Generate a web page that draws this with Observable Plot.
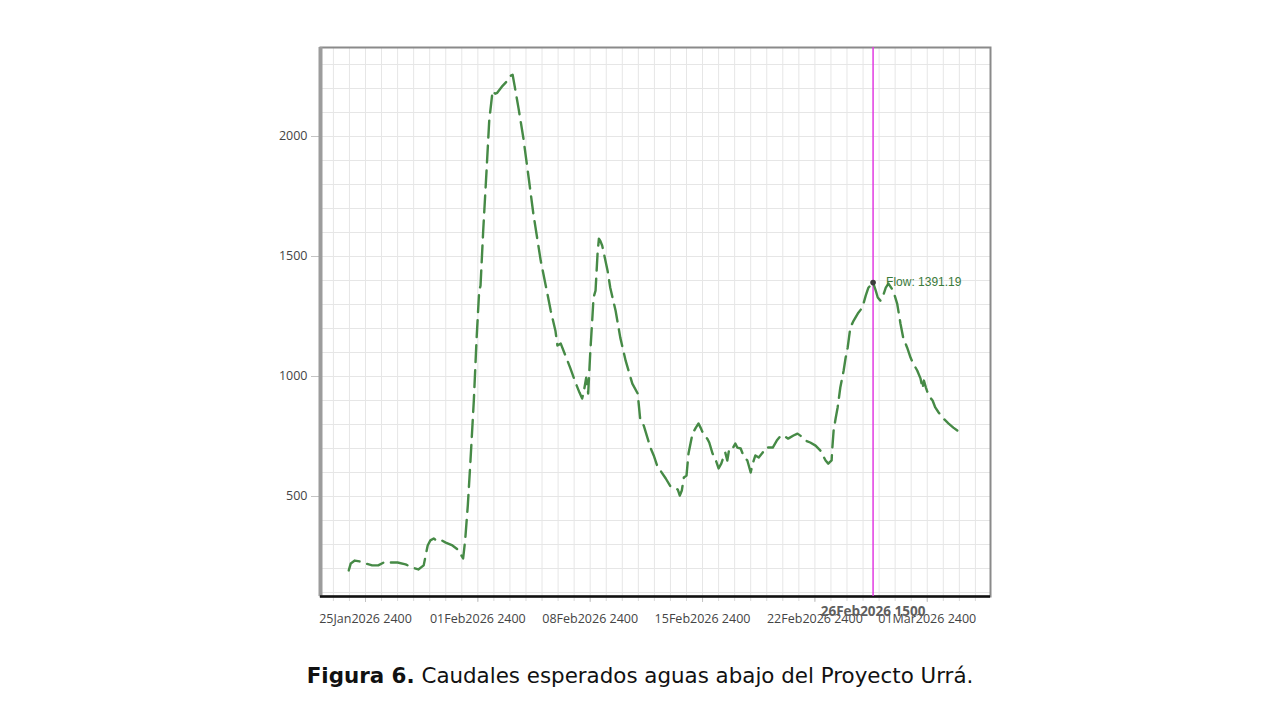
<!DOCTYPE html>
<html>
<head>
<meta charset="utf-8">
<script src="https://cdn.jsdelivr.net/npm/d3@7"></script>
<script src="https://cdn.jsdelivr.net/npm/@observablehq/plot@0.6"></script>
<style>
  html, body { margin: 0; padding: 0; background: #fff; }
  #chart { width: 1280px; height: 660px; }
  #caption { width: 1280px; text-align: center; font-family: "DejaVu Sans", Verdana, sans-serif; font-size: 21.4px; line-height: 24px; margin-top: 4px; color: #111; }
</style>
</head>
<body>
<div id="chart"></div>
<div id="caption"><b>Figura 6.</b> Caudales esperados aguas abajo del Proyecto Urrá.</div>
<script>
// ---- data ----
const flowTimes = [
  "2026-01-24T23:00","2026-01-25T02:00","2026-01-25T08:00","2026-01-25T16:00","2026-01-26T00:00",
  "2026-01-26T10:00","2026-01-26T19:00","2026-01-27T06:00","2026-01-27T13:00","2026-01-28T00:00",
  "2026-01-28T12:00","2026-01-28T22:00","2026-01-29T07:00","2026-01-29T15:00","2026-01-29T21:00",
  "2026-01-30T01:00","2026-01-30T06:00","2026-01-30T12:00","2026-01-30T18:00","2026-01-31T00:00",
  "2026-01-31T10:00","2026-01-31T18:00","2026-02-01T02:00","2026-02-01T05:00","2026-02-01T09:00",
  "2026-02-01T13:00","2026-02-01T18:00","2026-02-01T22:00","2026-02-02T02:00","2026-02-02T04:00",
  "2026-02-02T08:00","2026-02-02T13:00","2026-02-02T17:00","2026-02-02T22:00","2026-02-03T02:00",
  "2026-02-03T05:00","2026-02-03T13:00","2026-02-03T20:00","2026-02-04T01:00","2026-02-04T04:00",
  "2026-02-04T07:00","2026-02-04T13:00","2026-02-04T20:00","2026-02-05T04:00","2026-02-05T11:00",
  "2026-02-05T22:00","2026-02-06T08:00","2026-02-06T13:00","2026-02-06T20:00","2026-02-06T23:00",
  "2026-02-07T04:00","2026-02-07T11:00","2026-02-07T18:00","2026-02-08T02:00","2026-02-08T08:00",
  "2026-02-08T12:00","2026-02-08T15:00","2026-02-08T18:00","2026-02-08T21:00","2026-02-09T00:00",
  "2026-02-09T03:00","2026-02-09T05:00","2026-02-09T08:00","2026-02-09T11:00","2026-02-09T13:00",
  "2026-02-09T15:00","2026-02-09T18:00","2026-02-10T02:00","2026-02-10T06:00","2026-02-10T14:00",
  "2026-02-10T21:00","2026-02-11T05:00","2026-02-11T15:00","2026-02-11T23:00","2026-02-12T03:00",
  "2026-02-12T08:00","2026-02-12T14:00","2026-02-12T18:00","2026-02-12T23:00","2026-02-13T05:00",
  "2026-02-13T09:00","2026-02-13T17:00","2026-02-14T00:00","2026-02-14T08:00","2026-02-14T11:00",
  "2026-02-14T14:00","2026-02-14T17:00","2026-02-14T20:00","2026-02-15T00:00","2026-02-15T03:00",
  "2026-02-15T06:00","2026-02-15T09:00","2026-02-15T14:00","2026-02-15T18:00","2026-02-15T21:00",
  "2026-02-16T01:00","2026-02-16T07:00","2026-02-16T10:00","2026-02-16T15:00","2026-02-16T19:00",
  "2026-02-17T00:00","2026-02-17T04:00","2026-02-17T07:00","2026-02-17T10:00","2026-02-17T13:00",
  "2026-02-17T16:00","2026-02-17T21:00","2026-02-18T01:00","2026-02-18T04:00","2026-02-18T09:00",
  "2026-02-18T13:00","2026-02-18T19:00","2026-02-19T00:00","2026-02-19T03:00","2026-02-19T07:00",
  "2026-02-19T12:00","2026-02-19T18:00","2026-02-19T22:00","2026-02-20T03:00","2026-02-20T09:00",
  "2026-02-20T15:00","2026-02-20T21:00","2026-02-21T01:00","2026-02-21T08:00","2026-02-21T16:00",
  "2026-02-21T22:00","2026-02-22T04:00","2026-02-22T10:00","2026-02-22T17:00","2026-02-23T01:00",
  "2026-02-23T08:00","2026-02-23T16:00","2026-02-23T20:00","2026-02-24T01:00","2026-02-24T02:00",
  "2026-02-24T04:00","2026-02-24T07:00","2026-02-24T10:00","2026-02-24T14:00","2026-02-24T19:00",
  "2026-02-24T22:00","2026-02-25T01:00","2026-02-25T05:00","2026-02-25T10:00","2026-02-25T17:00",
  "2026-02-25T23:00","2026-02-26T04:00","2026-02-26T08:00","2026-02-26T15:00","2026-02-26T19:00",
  "2026-02-26T22:00","2026-02-27T02:00","2026-02-27T05:00","2026-02-27T10:00","2026-02-27T14:00",
  "2026-02-27T21:00","2026-02-28T03:00","2026-02-28T08:00","2026-02-28T12:00","2026-02-28T18:00",
  "2026-02-28T23:00","2026-03-01T03:00","2026-03-01T09:00","2026-03-01T14:00","2026-03-01T17:00",
  "2026-03-01T19:00","2026-03-01T22:00","2026-03-02T02:00","2026-03-02T08:00","2026-03-02T12:00",
  "2026-03-02T17:00","2026-03-03T00:00","2026-03-03T08:00","2026-03-03T15:00","2026-03-03T21:00",
  "2026-03-04T02:00"
];
const flowValues = [
  192,221,233,229,221,
  213,213,229,225,225,
  217,204,196,213,296,
  317,325,313,317,308,
  296,279,242,317,463,
  650,900,1150,1358,1378,
  1607,1857,2065,2190,2178,
  2182,2211,2232,2253,2257,
  2211,2115,1995,1828,1678,
  1483,1345,1274,1191,1129,
  1137,1087,1037,975,933,
  908,946,995,929,1095,
  1233,1329,1358,1512,1574,
  1566,1545,1441,1370,1274,
  1162,1066,970,929,816,
  796,741,704,671,621,
  608,575,542,533,529,
  504,525,579,587,679,
  721,762,787,804,787,
  762,741,725,679,658,
  617,637,662,683,650,
  700,700,721,704,700,
  671,650,600,637,671,
  662,683,704,704,704,
  733,754,754,741,754,
  762,750,733,725,712,
  692,650,637,650,700,
  775,825,871,954,1025,
  1079,1120,1204,1233,1266,
  1287,1337,1370,1391.19,1358,
  1329,1316,1329,1370,1387,
  1358,1304,1220,1162,1120,
  1079,1054,1025,991,950,
  983,954,920,900,871,
  850,825,804,787,775,
  746
];
const xTickDates = ["2026-01-26","2026-02-02","2026-02-09","2026-02-16","2026-02-23","2026-03-02"];
const xTickLabels = ["25Jan2026 2400","01Feb2026 2400","08Feb2026 2400","15Feb2026 2400","22Feb2026 2400","01Mar2026 2400"];
const yTickValues = [500, 1000, 1500, 2000];
const cursorTime = "2026-02-26T15:00";
const cursorLabel = "26Feb2026 1500";
const cursorValue = 1391.19;
const xDomain = ["2026-01-23T04:43", "2026-03-05T22:35"];
const yDomain = [83.3, 2370.8];

// ---- build ----
const parseT = d3.utcParse("%Y-%m-%dT%H:%M");
const parseD = d3.utcParse("%Y-%m-%d");
const flow = flowTimes.map((t, i) => ({time: parseT(t), value: flowValues[i]}));
const xTicks = xTickDates.map(parseD);
const labelMap = new Map(xTicks.map((d, i) => [+d, xTickLabels[i]]));
const xd = xDomain.map(parseT);
const dayTicks = d3.utcDay.range(d3.utcDay.ceil(xd[0]), xd[1]);
const yGrid = d3.range(100, 2400, 100);
const cursor = [{time: parseT(cursorTime), value: cursorValue}];

const green = "#468a46";

const chart = Plot.plot({
  width: 1280,
  height: 660,
  marginLeft: 320,
  marginRight: 290,
  marginTop: 47,
  marginBottom: 64,
  style: {fontFamily: "'Open Sans', 'Noto Sans', sans-serif", fontSize: "12.5px", color: "#444", background: "#fff"},
  x: {type: "utc", domain: xd},
  y: {type: "linear", domain: yDomain},
  marks: [
    Plot.gridX(dayTicks, {stroke: "#e6e6e6", strokeOpacity: 1, strokeWidth: 1}),
    Plot.gridY(yGrid, {stroke: "#e6e6e6", strokeOpacity: 1, strokeWidth: 1}),
    // minor ticks below axis
    Plot.axisX(dayTicks, {tickSize: 5, stroke: "#dadada", tickFormat: () => "", label: null}),
    Plot.axisX(xTicks, {tickSize: 6, stroke: "#c4c4c4", tickPadding: 12, tickFormat: d => labelMap.get(+d), fill: "#444", label: null}),
    Plot.axisY(yTickValues, {tickSize: 9, stroke: "#c4c4c4", tickPadding: 4, tickFormat: d3.format("d"), fill: "#444", label: null}),
    // frame
    Plot.frame({stroke: "#8a8a8a", strokeWidth: 2}),
    Plot.ruleX([xd[0]], {stroke: "#9c9c9c", strokeWidth: 4}),
    Plot.ruleY([yDomain[0]], {stroke: "#111", strokeWidth: 2.5}),
    // cursor
    Plot.ruleX(cursor, {x: "time", stroke: "#e23be2", strokeWidth: 1.5}),
    Plot.line(flow, {x: "time", y: "value", stroke: green, strokeWidth: 2.4, strokeDasharray: "17,8", curve: "linear"}),
    Plot.dot(cursor, {x: "time", y: "value", r: 2.8, fill: "#3a3a3a"}),
    Plot.text(cursor, {x: "time", y: "value", text: d => `Flow: ${d.value}`, dx: 13, textAnchor: "start", fill: "#3a7a3a", fontSize: 12, fontFamily: "Arial, 'Liberation Sans', sans-serif"}),
    Plot.text(cursor, {x: "time", y: () => yDomain[0], text: () => cursorLabel, dy: 15, fill: "#5f5f5f", fontSize: 13.5, fontWeight: "bold", fontFamily: "'Open Sans', sans-serif"})
  ]
});
document.getElementById("chart").appendChild(chart);
</script>
</body>
</html>
